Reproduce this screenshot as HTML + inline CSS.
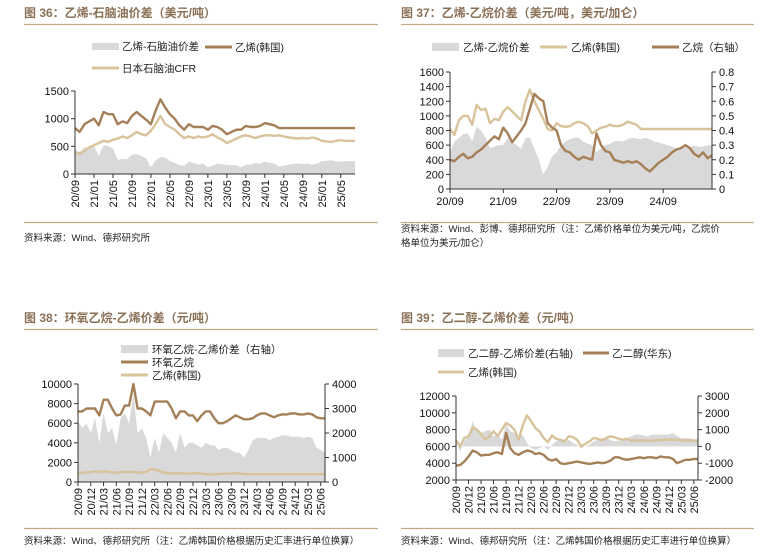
<!DOCTYPE html>
<html><head><meta charset="utf-8"><style>
body{margin:0;background:#fff}
svg{display:block;font-family:"Liberation Sans","Noto Sans CJK SC",sans-serif}
.t{font-size:12px;font-weight:bold;fill:#8a7056}
.lg{font-size:10.5px;fill:#222}
.ax{font-size:11px;fill:#111}
.src{font-size:9.5px;fill:#222}
</style></head><body>
<svg id="s" width="780" height="553" viewBox="0 0 780 553">
<g>
<text class="t" x="24" y="17">图 36：乙烯-石脑油价差（美元/吨）</text>
<line x1="24" y1="24.5" x2="378" y2="24.5" stroke="#c8a886" stroke-width="1.2"/>
<rect x="92" y="43" width="27" height="7" fill="#d9d9d9"/>
<text class="lg" x="122" y="50">乙烯-石脑油价差</text>
<line x1="205" y1="47" x2="232" y2="47" stroke="#a57f57" stroke-width="3"/>
<text class="lg" x="235" y="51">乙烯(韩国)</text>
<line x1="92" y1="68" x2="119" y2="68" stroke="#d8c39a" stroke-width="3"/>
<text class="lg" x="122" y="72">日本石脑油CFR</text>
<line x1="24" y1="222.5" x2="378" y2="222.5" stroke="#c8a886" stroke-width="1.2"/>
<text class="src" x="24" y="241">资料来源：Wind、德邦研究所</text>
</g>
<g>
<text class="t" x="401" y="17">图 37：乙烯-乙烷价差（美元/吨，美元/加仑）</text>
<line x1="401" y1="24.5" x2="754" y2="24.5" stroke="#c8a886" stroke-width="1.2"/>
<rect x="432" y="43" width="27" height="8" fill="#d9d9d9"/>
<text class="lg" x="463" y="51">乙烯-乙烷价差</text>
<line x1="540" y1="47" x2="567" y2="47" stroke="#d8c39a" stroke-width="3"/>
<text class="lg" x="571" y="51">乙烯(韩国)</text>
<line x1="652" y1="47" x2="679" y2="47" stroke="#a57f57" stroke-width="3"/>
<text class="lg" x="682" y="51">乙烷（右轴）</text>
<line x1="401" y1="222.5" x2="754" y2="222.5" stroke="#c8a886" stroke-width="1.2"/>
<text class="src" x="401" y="232">资料来源：Wind、彭博、德邦研究所（注：乙烯价格单位为美元/吨，乙烷价</text>
<text class="src" x="401" y="246">格单位为美元/加仑）</text>
</g>
<g>
<text class="t" x="24" y="322">图 38：环氧乙烷-乙烯价差（元/吨）</text>
<line x1="24" y1="329.5" x2="378" y2="329.5" stroke="#c8a886" stroke-width="1.2"/>
<rect x="121" y="345" width="27" height="8" fill="#d9d9d9"/>
<text class="lg" x="152" y="353">环氧乙烷-乙烯价差（右轴）</text>
<line x1="121" y1="362" x2="148" y2="362" stroke="#a57f57" stroke-width="3"/>
<text class="lg" x="152" y="366">环氧乙烷</text>
<line x1="121" y1="375" x2="148" y2="375" stroke="#d8c39a" stroke-width="3"/>
<text class="lg" x="152" y="379">乙烯(韩国)</text>
<line x1="24" y1="528.5" x2="378" y2="528.5" stroke="#c8a886" stroke-width="1.2"/>
<text class="src" x="24" y="544">资料来源：Wind、德邦研究所（注：乙烯韩国价格根据历史汇率进行单位换算）</text>
</g>
<g>
<text class="t" x="401" y="322">图 39：乙二醇-乙烯价差（元/吨）</text>
<line x1="401" y1="329.5" x2="754" y2="329.5" stroke="#c8a886" stroke-width="1.2"/>
<rect x="438" y="349" width="26" height="8" fill="#d9d9d9"/>
<text class="lg" x="468" y="357">乙二醇-乙烯价差(右轴)</text>
<line x1="583" y1="353" x2="609" y2="353" stroke="#a57f57" stroke-width="3"/>
<text class="lg" x="612" y="357">乙二醇(华东)</text>
<line x1="438" y1="372" x2="464" y2="372" stroke="#d8c39a" stroke-width="3"/>
<text class="lg" x="468" y="376">乙烯(韩国)</text>
<line x1="401" y1="528.5" x2="754" y2="528.5" stroke="#c8a886" stroke-width="1.2"/>
<text class="src" x="401" y="544">资料来源：Wind、德邦研究所（注：乙烯韩国价格根据历史汇率进行单位换算）</text>
</g>
</svg>
<script>
// ---- Fig 36 data ----
const c36Ticks = ['20/09','21/01','21/05','21/09','22/01','22/05','22/09','23/01','23/05','23/09','24/01','24/05','24/09','25/01','25/05'];
const c36YTicks = [0,500,1000,1500];
const c36Ethylene = [830,760,900,950,1000,880,1120,1080,1080,900,950,920,1050,1120,1050,980,900,1150,1350,1200,1080,1000,880,800,900,850,850,850,800,870,850,800,720,760,800,800,870,850,850,870,920,900,880,830,830,830,830,830,830,830,830,830,830,830,830,830,830,830,830,830];
const c36Naphtha = [400,360,420,480,520,560,600,580,620,640,680,650,700,760,720,700,780,900,1050,900,850,800,720,650,680,650,680,660,680,720,660,620,560,600,640,680,700,680,650,680,700,700,690,700,680,660,650,640,650,640,660,640,600,590,580,600,610,600,600,600];
const c36Spread = [430,400,480,470,520,320,520,500,460,260,270,270,350,360,330,280,120,250,300,300,230,200,160,150,220,200,170,190,120,150,190,180,160,160,160,120,170,170,200,190,220,200,190,130,150,170,180,190,180,190,170,190,230,240,250,230,220,230,230,230];
// ---- Fig 37 data ----
const c37Ticks = ['20/09','21/09','22/09','23/09','24/09'];
const c37YTicks = [0,200,400,600,800,1000,1200,1400,1600];
const c37Y2Ticks = ['0','0.1','0.2','0.3','0.4','0.5','0.6','0.7','0.8'];
const c37Ethylene = [820,740,940,1000,1000,880,1150,1080,1100,900,960,940,1060,1120,1060,1000,940,1200,1360,1200,1080,960,820,800,900,860,850,860,900,920,900,860,760,800,840,850,880,860,860,880,920,900,880,820,820,820,820,820,820,820,820,820,820,820,820,820,820,820,820,820];
const c37Ethane = [0.20,0.19,0.22,0.24,0.21,0.22,0.25,0.27,0.30,0.33,0.36,0.34,0.42,0.38,0.32,0.36,0.40,0.45,0.55,0.65,0.62,0.60,0.45,0.42,0.40,0.30,0.26,0.25,0.22,0.20,0.22,0.21,0.20,0.38,0.30,0.26,0.25,0.20,0.19,0.18,0.19,0.18,0.19,0.17,0.14,0.12,0.15,0.18,0.20,0.22,0.25,0.27,0.28,0.30,0.28,0.24,0.22,0.25,0.21,0.23];
const c37Spread = [500,650,700,750,760,650,850,800,700,560,580,600,600,700,650,600,550,700,700,550,400,200,300,450,500,600,650,680,700,700,650,620,600,500,560,600,620,650,660,650,680,700,690,680,700,680,650,640,620,600,580,560,560,570,580,590,580,580,600,600];
// ---- Fig 38 data ----
const c38Ticks = ['20/09','20/12','21/03','21/06','21/09','21/12','22/03','22/06','22/09','22/12','23/03','23/06','23/09','23/12','24/03','24/06','24/09','24/12','25/03','25/06'];
const c38YTicks = [0,2000,4000,6000,8000,10000];
const c38Y2Ticks = [0,1000,2000,3000,4000];
const c38EO = [7200,7200,7500,7500,7500,6800,8400,8400,7500,6800,6900,7800,7800,10000,7500,7500,7200,6800,8200,8200,8200,8200,7500,6500,7200,7200,6800,6800,6200,6800,7200,7200,6500,6000,6000,6200,6500,6800,6600,6400,6400,6500,6800,7000,7000,6800,6600,6800,6900,6900,7000,7000,6900,6900,7000,6900,6600,6500,6500];
const c38Ethylene = [900,950,1000,1000,1100,1000,1100,1050,1000,950,1000,1050,1000,1050,1000,950,1000,1300,1300,1100,1000,900,850,900,900,850,850,900,900,850,800,750,800,800,850,850,850,900,850,800,800,800,800,800,800,800,800,800,800,800,800,800,800,800,800,800,800,800,800];
const c38Spread = [2500,2200,2400,2000,2600,1600,2800,2000,2200,1500,2600,2800,2400,3600,2000,2200,1800,1000,1800,1200,2000,1800,1600,1200,2000,1400,1600,1600,1500,1400,1600,1500,1500,1300,1400,1400,1300,1200,1200,1000,1300,1700,1800,1800,1800,1700,1800,1850,1900,1900,1850,1850,1850,1800,1850,1800,1400,1300,1200];
// ---- Fig 39 data ----
const c39Ticks = c38Ticks;
const c39YTicks = [2000,4000,6000,8000,10000,12000];
const c39Y2Ticks = [-2000,-1000,0,1000,2000,3000];
const c39MEG = [3700,3800,4200,4800,5500,5300,4900,5000,5000,5200,5300,5100,7600,5800,5200,5000,5300,5500,5400,5100,5200,5000,4500,4300,4500,4000,3900,4000,4100,4200,4100,4000,3900,4000,4100,4000,4100,4300,4700,4700,4500,4400,4500,4600,4700,4600,4700,4700,4600,4800,4700,4700,4500,4000,4200,4400,4400,4500,4500];
const c39Ethylene = [6700,6000,7000,7200,8200,8000,7500,6800,7200,7800,7200,8000,8800,8500,8000,6800,8500,9700,9000,8200,7800,7000,6500,7300,6900,6800,6600,7200,7100,6800,6000,6300,6600,7000,6900,6700,7000,7200,7100,6900,6800,6900,6700,6700,6700,6700,6700,6700,6700,6750,6800,6800,6800,6800,6700,6700,6700,6700,6700];
const c39Spread = [200,-300,300,600,1500,900,800,900,1000,600,700,400,1300,900,800,600,700,200,-100,-200,-100,0,-200,100,300,400,300,400,200,100,-100,0,100,300,400,500,500,400,300,350,400,500,600,700,700,650,600,700,700,700,700,700,800,600,500,500,500,400,400];

const NS='http://www.w3.org/2000/svg', svg=document.getElementById('s');
function el(tag,attrs,parent){const e=document.createElementNS(NS,tag);for(const k in attrs)e.setAttribute(k,attrs[k]);(parent||svg).appendChild(e);return e;}
function lin(d0,d1,r0,r1){return v=>r0+(v-d0)*(r1-r0)/(d1-d0);}
function pts(arr,xs,ys){return arr.map((v,i)=>xs(i).toFixed(1)+','+ys(v).toFixed(1)).join(' ');}
function area(arr,xs,ys,base){let d='M'+xs(0)+','+ys(base);arr.forEach((v,i)=>{d+=' L'+xs(i).toFixed(1)+','+ys(v).toFixed(1);});d+=' L'+xs(arr.length-1)+','+ys(base)+' Z';return d;}

function chart(c){
  const g=el('g',{});
  
  
  const yl=lin(c.yMin,c.yMax,c.y0,c.y1);
  const yr=c.y2?lin(c.y2Min,c.y2Max,c.y0,c.y1):null;
  const n=c.months;
  const xs=i=>c.x0+i*(c.x1-c.x0)/(n-1);
  // spread area
  const sy=c.spreadRight?yr:yl;
  const a=el('path',{d:area(c.spread,xs,sy,c.spreadBase),fill:'#d9d9d9'},g);
  
  
  c.lines.forEach(L=>{
    const p=el('polyline',{points:pts(L.data,xs,L.right?yr:yl),fill:'none',stroke:L.color,'stroke-width':2.4,'stroke-linejoin':'round'},g);
    
    
  });
  // axes
  el('line',{x1:c.x0,y1:c.y0,x2:c.x0,y2:c.y1,stroke:'#333','stroke-width':1},g);
  el('line',{x1:c.x0,y1:c.y0,x2:c.x1,y2:c.y0,stroke:'#333','stroke-width':1},g);
  if(c.y2)el('line',{x1:c.x1,y1:c.y0,x2:c.x1,y2:c.y1,stroke:'#333','stroke-width':1},g);
  c.yTicks.forEach(v=>{const y=yl(v);el('line',{x1:c.x0-4,y1:y,x2:c.x0,y2:y,stroke:'#333'},g);
    const t=el('text',{x:c.x0-6,y:y+4,'text-anchor':'end',class:'ax'},g);t.textContent=v;
    
    });
  if(c.y2)c.y2Ticks.forEach((v,i)=>{const val=c.y2Min+i*(c.y2Max-c.y2Min)/(c.y2Ticks.length-1);const y=yr(val);
    el('line',{x1:c.x1,y1:y,x2:c.x1+4,y2:y,stroke:'#333'},g);
    const t=el('text',{x:c.x1+7,y:y+4,class:'ax'},g);t.textContent=v;
    
    });
  c.xTicks.forEach((lab,i)=>{const x=xs(i*c.step);
    el('line',{x1:x,y1:c.y0,x2:x,y2:c.y0+4,stroke:'#333'},g);
    let t;
    if(c.rot){t=el('text',{x:0,y:0,'text-anchor':'end',class:'ax',transform:`translate(${x+4},${c.y0+6}) rotate(-90)`},g);}
    else{t=el('text',{x:x,y:c.y0+16,'text-anchor':'middle',class:'ax'},g);}
    t.textContent=lab;
    
    });
}
chart({name:'fig36-chart',x0:75,x1:355,y0:174,y1:91,yMin:0,yMax:1500,yTicks:c36YTicks,months:60,step:4,xTicks:c36Ticks,rot:true,
  spread:c36Spread,spreadBase:0,lines:[{data:c36Naphtha,color:'#d8c39a',name:'naphtha-line'},{data:c36Ethylene,color:'#a57f57',name:'ethylene-korea-line'}]});
chart({name:'fig37-chart',x0:450,x1:712,y0:189,y1:72,yMin:0,yMax:1600,yTicks:c37YTicks,y2:true,y2Min:0,y2Max:0.8,y2Ticks:c37Y2Ticks,months:60,step:12,xTicks:c37Ticks,rot:false,
  spread:c37Spread,spreadBase:0,lines:[{data:c37Ethylene,color:'#d8c39a',name:'ethylene-korea-line'},{data:c37Ethane,color:'#a57f57',right:true,name:'ethane-line'}]});
chart({name:'fig38-chart',x0:78,x1:325,y0:482,y1:384,yMin:0,yMax:10000,yTicks:c38YTicks,y2:true,y2Min:0,y2Max:4000,y2Ticks:c38Y2Ticks,months:59,step:3,xTicks:c38Ticks,rot:true,
  spread:c38Spread,spreadBase:0,spreadRight:true,lines:[{data:c38EO,color:'#a57f57',name:'ethylene-oxide-line'},{data:c38Ethylene,color:'#d8c39a',name:'ethylene-korea-line'}]});
chart({name:'fig39-chart',x0:456,x1:698,y0:480,y1:396,yMin:2000,yMax:12000,yTicks:c39YTicks,y2:true,y2Min:-2000,y2Max:3000,y2Ticks:c39Y2Ticks,months:59,step:3,xTicks:c39Ticks,rot:true,
  spread:c39Spread,spreadBase:0,spreadRight:true,lines:[{data:c39MEG,color:'#a57f57',name:'meg-line'},{data:c39Ethylene,color:'#d8c39a',name:'ethylene-korea-line'}]});
</script>
</body></html>
